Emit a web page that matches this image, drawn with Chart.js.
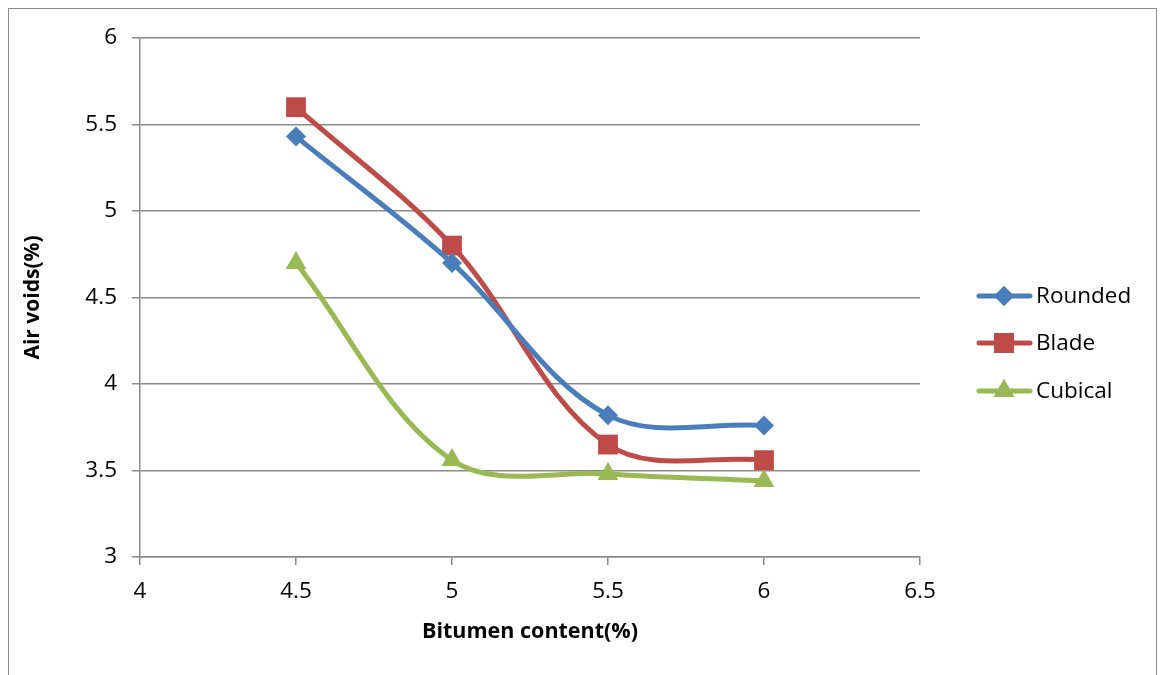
<!DOCTYPE html>
<html lang="en">
<head>
  <meta charset="UTF-8">
  <title>Air voids vs bitumen content</title>
  <style>
    html, body { margin: 0; padding: 0; background: #fff; }
    body { width: 1160px; height: 675px; position: relative; overflow: hidden; }
    .frame { position: absolute; left: 8px; top: 8px; width: 1149px; height: 700px; border: 1.5px solid #8c8c8c; box-sizing: border-box; }
    #chart { position: absolute; left: 0; top: 0; }
  </style>
</head>
<body>
  <div class="frame"></div>
  <canvas id="chart" width="1160" height="675"></canvas>

  <script src="https://cdn.jsdelivr.net/npm/chart.js"></script>
  <script>
    // Bitumen content (%) on the x axis, air voids (%) per aggregate shape
    const bitumen = [4.5, 5, 5.5, 6];
    const rounded = [5.43, 4.70, 3.82, 3.76];
    const blade = [5.60, 4.80, 3.65, 3.56];
    const cubical = [4.70, 3.56, 3.48, 3.44];

    const xTicks = [4, 4.5, 5, 5.5, 6, 6.5];
    const yTicks = [3, 3.5, 4, 4.5, 5, 5.5, 6];

    const FONT = '"Open Sans", "DejaVu Sans", sans-serif';
    const GRID = '#8a8a8a';

    const series = [
      { label: 'Rounded', values: rounded, color: '#4a7ebb', style: 'rectRot', radius: 10 },
      { label: 'Blade', values: blade, color: '#be4b48', style: 'rect', radius: 14 },
      { label: 'Cubical', values: cubical, color: '#98b954', style: 'triangle', radius: 12 }
    ];

    const pts = vals => bitumen.map((b, i) => ({ x: b, y: vals[i] }));

    // legend on the right: line segment with the marker in the middle
    const sideLegend = {
      id: 'sideLegend',
      afterDraw(chart) {
        const ctx = chart.ctx;
        const rows = [296, 343, 391];
        ctx.save();
        series.forEach((s, i) => {
          const y = rows[i];
          ctx.strokeStyle = s.color;
          ctx.lineWidth = 5;
          ctx.lineCap = 'round';
          ctx.beginPath();
          ctx.moveTo(979, y);
          ctx.lineTo(1030, y);
          ctx.stroke();
          ctx.fillStyle = s.color;
          Chart.helpers.drawPoint(ctx, { pointStyle: s.style, radius: s.radius, borderWidth: 0 }, 1004, y);
          ctx.fill();
          ctx.fillStyle = '#000';
          ctx.font = '22.5px ' + FONT;
          ctx.textBaseline = 'middle';
          ctx.fillText(s.label, 1036, y + 1);
        });
        ctx.restore();
      }
    };

    new Chart(document.getElementById('chart'), {
      type: 'line',
      data: {
        datasets: series.map(s => ({
          label: s.label,
          data: pts(s.values),
          borderColor: s.color,
          backgroundColor: s.color,
          borderWidth: 5,
          pointStyle: s.style,
          pointRadius: s.radius,
          pointBorderWidth: 0,
          tension: 0.35,
          fill: false
        }))
      },
      options: {
        responsive: false,
        animation: false,
        layout: { padding: { top: 38, right: 240, left: 0, bottom: 0 } },
        plugins: { legend: { display: false }, tooltip: { enabled: false } },
        scales: {
          x: {
            type: 'linear',
            min: 4, max: 6.5,
            afterFit: s => { s.height = 118; },
            afterBuildTicks: s => { s.ticks = xTicks.map(v => ({ value: v })); },
            grid: { drawOnChartArea: false, drawTicks: true, tickLength: 8, color: GRID, lineWidth: 1.5 },
            border: { color: GRID, width: 1.5 },
            ticks: { padding: 13, color: '#000', font: { family: FONT, size: 22.5 }, callback: v => String(v) },
            title: { display: true, text: 'Bitumen content(%)', color: '#000', font: { family: FONT, size: 21.5, weight: 'bold' }, padding: { top: 0, bottom: 30 } }
          },
          y: {
            min: 3, max: 6,
            afterFit: s => { s.width = 140; },
            afterBuildTicks: s => { s.ticks = yTicks.map(v => ({ value: v })); },
            grid: { drawTicks: true, tickLength: 8, color: GRID, lineWidth: 1.5 },
            border: { color: GRID, width: 1.5 },
            ticks: { padding: 15, color: '#000', font: { family: FONT, size: 22.5 }, callback: v => String(v) },
            title: { display: true, text: 'Air voids(%)', color: '#000', font: { family: FONT, size: 21, weight: 'bold' }, padding: { top: 20, bottom: 0 } }
          }
        }
      },
      plugins: [sideLegend]
    });
  </script>
</body>
</html>
